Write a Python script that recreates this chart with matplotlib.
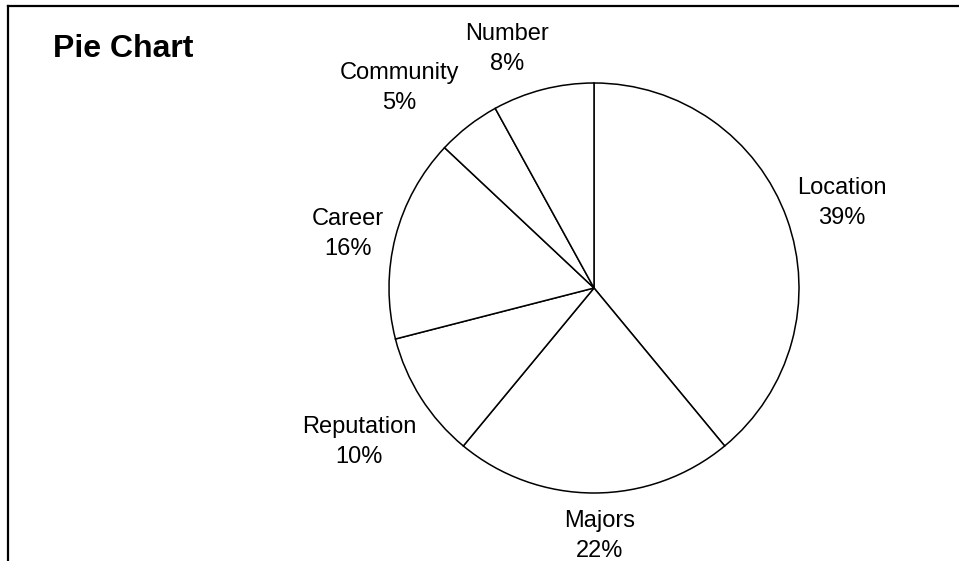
import numpy as np
import matplotlib
matplotlib.use("Agg")
from matplotlib import pyplot as plt
from matplotlib.lines import Line2D

plt.rcParams['font.family'] = ['Liberation Sans', 'DejaVu Sans']

# slice data, clockwise from 12 o'clock
categories = ['Location', 'Majors', 'Reputation', 'Career', 'Community', 'Number']
shares = [39, 22, 10, 16, 5, 8]

# label placement (radius in pie units, angle nudge in degrees)
label_r = [1.28, 1.21, 1.37, 1.23, 1.36, 1.24]
label_nudge = [-0.9, 1.4, 0.9, 2.0, 6.4, 5.7]

W, H = 959, 561
fig = plt.figure(figsize=(W / 100, H / 100), dpi=100)
fig.patch.set_facecolor('white')

# pie axes: centre (594, 288) px, radius 205 px
cx, cy, r = 594, 288, 205
ax = fig.add_axes([(cx - r) / W, (H - cy - r) / H, 2 * r / W, 2 * r / H])
wedges, _ = ax.pie(shares, startangle=90, counterclock=False,
                   colors=['white'] * len(shares),
                   wedgeprops=dict(edgecolor='black', linewidth=1.1))
ax.set_xlim(-1, 1)
ax.set_ylim(-1, 1)
ax.set_aspect('equal')
ax.axis('off')

for w, name, val, lr, dn in zip(wedges, categories, shares, label_r, label_nudge):
    theta = np.deg2rad((w.theta1 + w.theta2) / 2 + dn)
    ax.text(lr * np.cos(theta), lr * np.sin(theta), f"{name}\n{val}%",
            ha='center', va='center', fontsize=17, linespacing=1.45,
            clip_on=False)

fig.text(53 / W, 1 - 57 / H, 'Pie Chart', fontsize=23, fontweight='bold',
         ha='left', va='baseline')

# chart border (top and left edges visible)
fig.add_artist(Line2D([8 / W, 1], [1 - 6 / H, 1 - 6 / H], color='black',
                      linewidth=1.6, transform=fig.transFigure))
fig.add_artist(Line2D([8 / W, 8 / W], [0, 1 - 6 / H], color='black',
                      linewidth=1.6, transform=fig.transFigure))

plt.savefig('out.png', dpi=100, facecolor='white')
